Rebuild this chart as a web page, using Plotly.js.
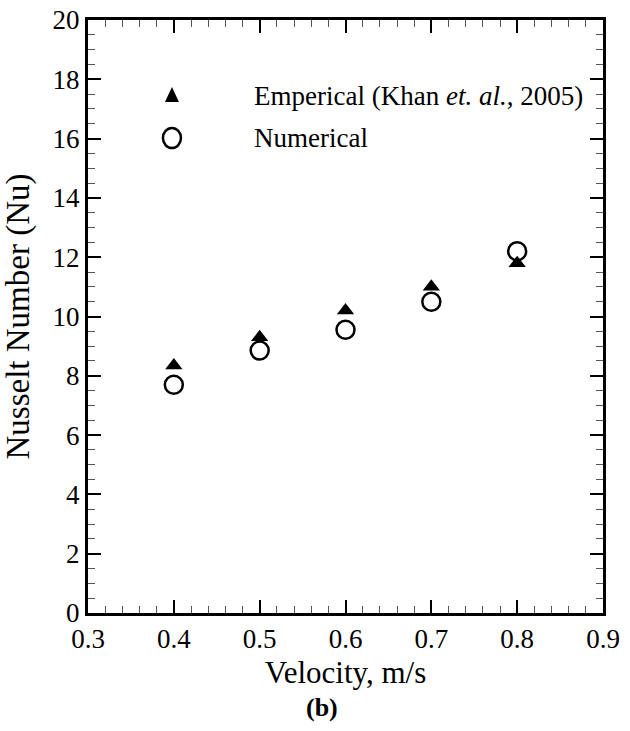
<!DOCTYPE html>
<html>
<head>
<meta charset="utf-8">
<script src="https://cdn.plot.ly/plotly-3.0.1.min.js"></script>
<style>html,body{margin:0;padding:0;background:#fff;}#chart{width:630px;height:731px;}</style>
</head>
<body>
<div id="chart"></div>
<script>
// Data
var velocity = [0.4, 0.5, 0.6, 0.7, 0.8];
var nuEmpirical = [8.35, 9.3, 10.2, 11.0, 11.8];
var nuNumerical = [7.7, 8.85, 9.55, 10.5, 12.2];
var xTicks = [0.3, 0.4, 0.5, 0.6, 0.7, 0.8, 0.9];
var yTicks = [0, 2, 4, 6, 8, 10, 12, 14, 16, 18, 20];
var seriesNames = ['Emperical (Khan <i>et. al.</i>, 2005)', 'Numerical'];

var serif = "Liberation Serif";

var traces = [
  {
    x: velocity, y: nuEmpirical, type: 'scatter', mode: 'markers',
    name: seriesNames[0], showlegend: false,
    marker: {symbol: 'triangle-up', size: 15, color: '#000'}
  },
  {
    x: velocity, y: nuNumerical, type: 'scatter', mode: 'markers',
    name: seriesNames[1], showlegend: false,
    marker: {symbol: 'circle-open', size: 18, color: '#000', line: {width: 2.5, color: '#000'}}
  }
];

var axisCommon = {
  showline: true, linecolor: '#000', linewidth: 3, mirror: 'allticks',
  ticks: 'inside', ticklen: 13, tickwidth: 2, tickcolor: '#000',
  showgrid: false, zeroline: false,
  tickfont: {family: serif, size: 27, color: '#000'}
};

// Hand-placed legend (symbol + text) in the upper-left of the plot
var legX = 0.163, legTextX = 0.318;
var legY = [0.872, 0.801];

var layout = {
  width: 630, height: 731,
  margin: {l: 88, r: 27, t: 20, b: 118},
  paper_bgcolor: '#fff', plot_bgcolor: '#fff',
  showlegend: false,
  xaxis: Object.assign({}, axisCommon, {
    range: [0.3, 0.9], tickmode: 'array', tickvals: xTicks,
    ticktext: xTicks.map(function(v){return v.toFixed(1);}),
    minor: {dtick: 0.02, ticks: 'inside', ticklen: 7, tickwidth: 1, tickcolor: '#555'},
    title: {text: 'Velocity, m/s', font: {family: serif, size: 31, color: '#000'}, standoff: 8}
  }),
  yaxis: Object.assign({}, axisCommon, {
    range: [0, 20], tickmode: 'array', tickvals: yTicks,
    minor: {dtick: 0.5, ticks: 'inside', ticklen: 7, tickwidth: 1, tickcolor: '#555'},
    title: {text: 'Nusselt Number (Nu)', font: {family: serif, size: 33, color: '#000'}, standoff: 16}
  }),
  shapes: [
    {type: 'path', xref: 'paper', yref: 'paper', xsizemode: 'pixel', ysizemode: 'pixel',
     xanchor: legX, yanchor: legY[0], path: 'M-7,-6 L7,-6 L0,9 Z',
     fillcolor: '#000', line: {width: 0}},
    {type: 'circle', xref: 'paper', yref: 'paper', xsizemode: 'pixel', ysizemode: 'pixel',
     xanchor: legX, yanchor: legY[1], x0: -9, x1: 9, y0: -10, y1: 10,
     fillcolor: 'rgba(0,0,0,0)', line: {width: 2.5, color: '#000'}}
  ],
  annotations: [
    {text: seriesNames[0], xref: 'paper', yref: 'paper', x: legTextX, y: legY[0],
     xanchor: 'left', yanchor: 'middle', showarrow: false,
     font: {family: serif, size: 27, color: '#000'}},
    {text: seriesNames[1], xref: 'paper', yref: 'paper', x: legTextX, y: legY[1],
     xanchor: 'left', yanchor: 'middle', showarrow: false,
     font: {family: serif, size: 27, color: '#000'}},
    {text: '<b>(b)</b>', xref: 'paper', yref: 'paper', x: 0.455, y: -0.16,
     xanchor: 'center', yanchor: 'middle', showarrow: false,
     font: {family: serif, size: 26, color: '#000'}}
  ]
};

Plotly.newPlot('chart', traces, layout, {displayModeBar: false, staticPlot: true});
</script>
</body>
</html>
